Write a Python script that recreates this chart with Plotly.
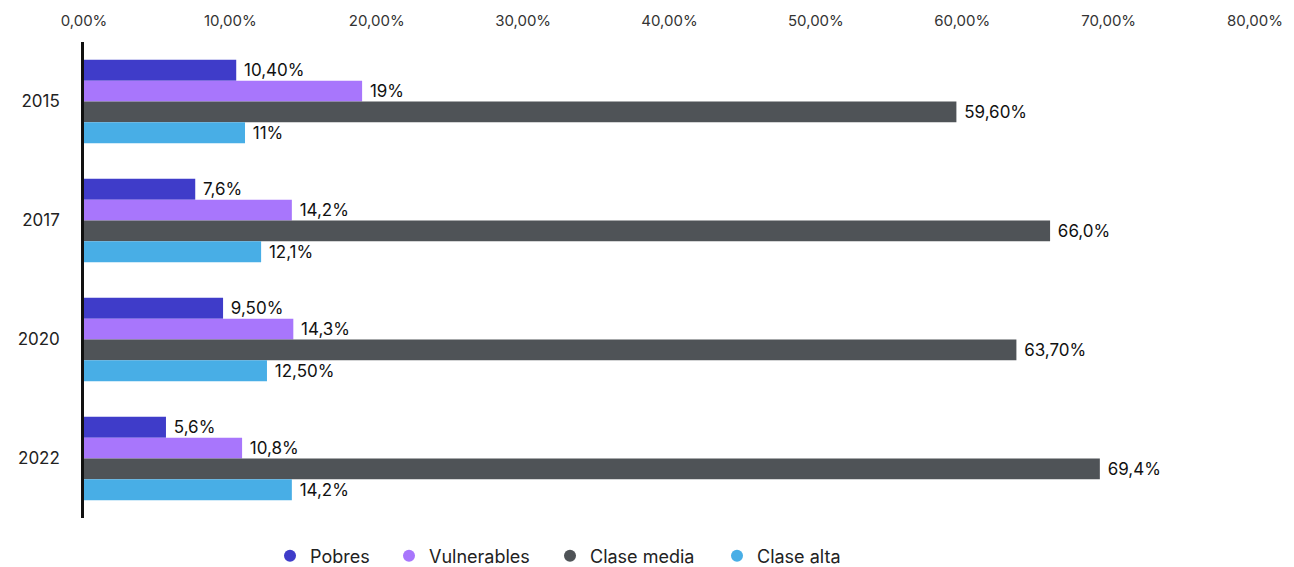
import plotly.graph_objects as go

years = ["2015", "2017", "2020", "2022"]
series_names = ["Pobres", "Vulnerables", "Clase media", "Clase alta"]
pobres = [10.4, 7.6, 9.5, 5.6]
vulnerables = [19.0, 14.2, 14.3, 10.8]
clase_media = [59.6, 66.0, 63.7, 69.4]
clase_alta = [11.0, 12.1, 12.5, 14.2]
pobres_text = ["10,40%", "7,6%", "9,50%", "5,6%"]
vulnerables_text = ["19%", "14,2%", "14,3%", "10,8%"]
clase_media_text = ["59,60%", "66,0%", "63,70%", "69,4%"]
clase_alta_text = ["11%", "12,1%", "12,50%", "14,2%"]
x_ticks = [0, 10, 20, 30, 40, 50, 60, 70, 80]
x_tick_labels = ["0,00%", "10,00%", "20,00%", "30,00%", "40,00%",
                 "50,00%", "60,00%", "70,00%", "80,00%"]

colors = ["#3F3CC9", "#A876FC", "#4F5357", "#48AEE6"]
values = [pobres, vulnerables, clase_media, clase_alta]
texts = [pobres_text, vulnerables_text, clase_media_text, clase_alta_text]

FONT = "Inter, Lato, sans-serif"
NBSP = "\u00a0"

# legend item marker centres in pixels (layout only)
legend_px = [291, 410, 571, 738]
PLOT_L, PLOT_W = 84, 1294 - 84 - 39

fig = go.Figure()
for name, vals, txt, col in zip(series_names, values, texts, colors):
    fig.add_trace(go.Bar(
        y=years, x=vals, orientation="h", name=name,
        marker=dict(color=col, line=dict(width=0)),
        text=txt, texttemplate=NBSP + "%{text}", textposition="outside",
        cliponaxis=False,
        textfont=dict(family=FONT, size=17, color="#111111"),
        showlegend=False, hoverinfo="x+name",
    ))

legend_keys = ["legend", "legend2", "legend3", "legend4"]
for name, col, key in zip(series_names, colors, legend_keys):
    fig.add_trace(go.Scatter(
        x=[None], y=[None], mode="markers", name=name,
        marker=dict(symbol="circle", size=13, color=col),
        showlegend=True, legend=key,
    ))

layout_legends = {}
for key, px in zip(legend_keys, legend_px):
    layout_legends[key] = dict(
        orientation="h", x=(px - 21 - PLOT_L) / PLOT_W, xanchor="left",
        y=-0.08, yanchor="middle", bgcolor="rgba(0,0,0,0)",
        font=dict(family=FONT, size=18, color="#222222"),
        itemsizing="constant", itemwidth=30,
    )

fig.update_layout(
    width=1294, height=567,
    margin=dict(l=84, r=39, t=42, b=49, autoexpand=False),
    paper_bgcolor="white", plot_bgcolor="white",
    barmode="group", bargap=0.30, bargroupgap=0,
    font=dict(family=FONT, color="#222222"),
    xaxis=dict(
        side="top", range=[0, 80], tickvals=x_ticks, ticktext=x_tick_labels,
        showgrid=False, zeroline=False, showline=False,
        tickfont=dict(family=FONT, size=15, color="#333333"),
        ticks="", fixedrange=True, automargin=False, ticklabelstandoff=12,
    ),
    yaxis=dict(
        type="category", autorange="reversed", automargin=False,
        showgrid=False, zeroline=False,
        showline=True, linecolor="#111111", linewidth=2.5,
        ticks="", ticklabelstandoff=18,
        tickfont=dict(family=FONT, size=17, color="#222222"),
    ),
    **layout_legends,
)

fig.write_html(
    "out.html",
    config={"displayModeBar": False},
    post_script="document.body.style.margin='0';document.body.style.overflow='hidden';",
)
